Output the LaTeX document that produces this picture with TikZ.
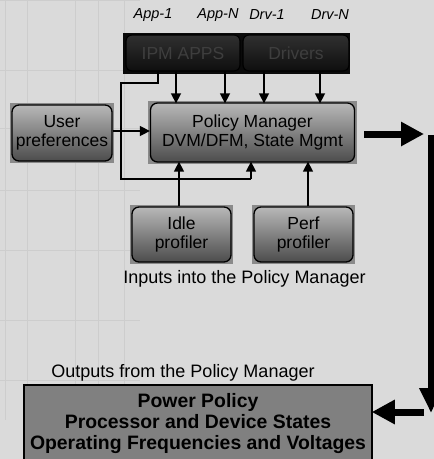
\documentclass[tikz,border=0pt]{standalone}
\usepackage{fontspec}
\setmainfont{Liberation Sans}
\usetikzlibrary{arrows.meta,calc}

\definecolor{bgcol}{HTML}{DADADA}
\definecolor{gridcol}{HTML}{CDCDCD}
\definecolor{backsq}{HTML}{8A8A8A}
\definecolor{boxtop}{HTML}{B8B8B8}
\definecolor{boxbot}{HTML}{4C4C4C}
\definecolor{darktop}{HTML}{303030}
\definecolor{darkbot}{HTML}{0E0E0E}
\definecolor{darktext}{HTML}{3E3E3E}
\definecolor{policyfill}{HTML}{808080}

\tikzset{
  boxtext/.style={font=\fontsize{17.5}{19}\selectfont, align=center},
  greybox/.style={boxtext, draw=black, line width=1.3pt, rounded corners=7pt,
    top color=boxtop, bottom color=boxbot, inner sep=0pt},
  darkbox/.style={boxtext, text=darktext, draw=black, line width=1.2pt,
    rounded corners=6pt, top color=darktop, bottom color=darkbot, inner sep=0pt},
  srclabel/.style={font=\fontsize{14.5}{16}\selectfont\itshape},
  caption/.style={font=\fontsize{18}{20}\selectfont},
  arr/.style={line width=1.5pt, -{Triangle[length=10pt,width=10pt]}},
  link/.style={line width=1.5pt},
  bigarr/.style={line width=7pt, -{Triangle[length=23pt,width=23pt]}},
  policybox/.style={draw=black, line width=1.5pt, fill=policyfill, align=center,
    font=\fontsize{19.4}{21}\selectfont\bfseries, inner sep=0pt}
}

\begin{document}
\begin{tikzpicture}[x=1pt,y=-1pt]
\useasboundingbox (0,0) rectangle (434,459);
\fill[bgcol] (0,0) rectangle (434,459);

% faint drafting grid on the left side
\begin{scope}[gridcol, line width=0.8pt]
  \foreach \gx in {5,27,75,98,124} \draw (\gx,0) -- (\gx,420);
  \foreach \gy in {0,70,128,190,250,320,380} \draw (0,\gy) -- (140,\gy);
\end{scope}

% source labels
\node[srclabel] (l1) at (153,15) {App-1};
\node[srclabel] (l2) at (218,15) {App-N};
\node[srclabel] (l3) at (267,15) {Drv-1};
\node[srclabel] (l4) at (330,15) {Drv-N};

% top dark boxes on their black backing
\fill[darkbot!70!black] (123,33) rectangle (350,74);
\node[darkbox, minimum width=114pt, minimum height=36pt] (ipm) at (183,53) {IPM APPS};
\node[darkbox, minimum width=106pt, minimum height=36pt] (drv) at (296,53) {Drivers};

% grey boxes with square backing
\fill[backsq] (148,101) rectangle (357,164);
\node[greybox, minimum width=204pt, minimum height=59pt] (pm) at (252.5,132.5)
  {Policy Manager\\DVM/DFM, State Mgmt};

\fill[backsq] (10,103) rectangle (114,163);
\node[greybox, minimum width=100pt, minimum height=56pt] (user) at (62,133)
  {User\\preferences};

\fill[backsq] (130,205) rectangle (233,264);
\node[greybox, minimum width=99pt, minimum height=55pt] (idle) at (181.5,234.5)
  {Idle\\profiler};

\fill[backsq] (252,205) rectangle (355,264);
\node[greybox, minimum width=99pt, minimum height=55pt] (perf) at (303.5,234.5)
  {Perf\\profiler};

% captions
\node[caption] (incap) at (244.5,279) {Inputs into the Policy Manager};
\node[caption] (outcap) at (183,373) {Outputs from the Policy Manager};

% output box
\node[policybox, minimum width=348pt, minimum height=77pt] (pp) at (198,423.5)
  {Power Policy\\Processor and Device States\\Operating Frequencies and Voltages};

% arrow columns
\coordinate (c1) at (176,0);
\coordinate (c2) at (225,0);
\coordinate (c3) at (264,0);
\coordinate (c4) at (320,0);
\coordinate (k1) at (158,83);
\coordinate (k2) at (121,179);
\coordinate (k3) at (251,179);
\coordinate (c5) at (179,0);
\coordinate (c6) at (308,0);

\foreach \c in {c1,c2} \draw[arr] (ipm.south -| \c) -- ([yshift=-1pt]pm.north -| \c);
\foreach \c in {c3,c4} \draw[arr] (drv.south -| \c) -- ([yshift=-1pt]pm.north -| \c);

% feedback path from IPM APPS round to the Policy Manager
\draw[link] (ipm.south -| k1) -- (k1) -| (k2) -- (k3);
\draw[arr] (k3) -- ([yshift=1pt]pm.south -| k3);

\draw[arr] (user.east |- 0,131) -- (pm.west |- 0,131);
\draw[arr] (idle.north -| c5) -- ([yshift=1pt]pm.south -| c5);
\draw[arr] (perf.north -| c6) -- ([yshift=1pt]pm.south -| c6);

% heavy output path down the right edge
\coordinate (r0) at (424,134);
\coordinate (r1) at (431,134.5);
\coordinate (r2) at (431,413);
\coordinate (r3) at (424,412);
\draw[bigarr] ([xshift=9pt]pm.east |- r0) -- (r0);
\draw[bigarr, -{Triangle[length=25pt,width=22pt]}] (r1) -- (r2);
\draw[bigarr] (r3) -- ([xshift=-1pt]pp.east |- r3);
\end{tikzpicture}
\end{document}
